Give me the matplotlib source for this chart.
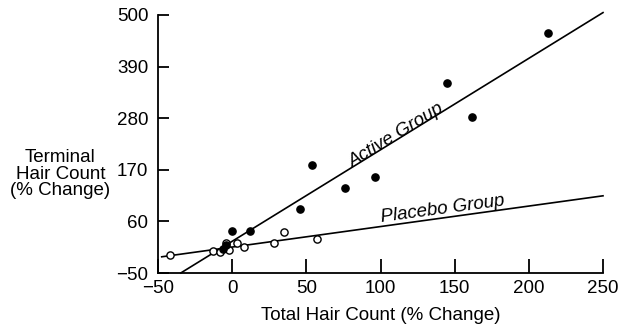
import numpy as np
import matplotlib.pyplot as plt

plt.rcParams['font.family'] = ['Liberation Sans', 'DejaVu Sans']

# active group (filled dots): total hair count vs terminal hair count, % change
active_x = [213, 145, 162, 54, 76, 96, 46, 0, 12, -4, -6]
active_y = [462, 355, 283, 180, 131, 155, 86, 40, 40, 10, 2]

# placebo group (open circles)
placebo_x = [-42, -13, -8, -4, -2, 3, 8, 28, 35, 57]
placebo_y = [-12, -3, -5, 15, 0, 13, 5, 15, 38, 22]

# fitted lines: slope, intercept, x-range
active_fit = [1.95, 17.6, -34.6, 250]
placebo_fit = [0.437, 5.3, -47.5, 250]

xticks = [-50, 0, 50, 100, 150, 200, 250]
yticks = [-50, 60, 170, 280, 390, 500]

fs = 13.5
fig = plt.figure(figsize=(6.28, 3.36), dpi=100)
ax = fig.add_axes([0.2516, 0.1875, 0.7086, 0.7679])

for fit in (active_fit, placebo_fit):
    xs = np.array(fit[2:])
    ax.plot(xs, fit[0] * xs + fit[1], color='black', lw=1.2, clip_on=False, zorder=2)

ax.plot(placebo_x, placebo_y, 'o', ms=5.2, mfc='white', mec='black', mew=1.0,
        clip_on=False, zorder=3)
ax.plot(active_x, active_y, 'o', ms=5.2, color='black', clip_on=False, zorder=4)

ax.text(111, 243, 'Active Group', style='italic', fontsize=fs,
        rotation=31.5, ha='center', va='center')
ax.text(142, 86, 'Placebo Group', style='italic', fontsize=fs,
        rotation=7.7, ha='center', va='center')

ax.set_xlim(-50, 250)
ax.set_ylim(-50, 500)
ax.set_xticks(xticks)
ax.set_yticks(yticks)
ax.spines['top'].set_visible(False)
ax.spines['right'].set_visible(False)
for s in ('left', 'bottom'):
    ax.spines[s].set_linewidth(1.3)
ax.tick_params(axis='x', direction='in', length=10, width=1.3, labelsize=fs, pad=5)
ax.tick_params(axis='y', direction='in', length=8, width=1.3, labelsize=fs, pad=7)

ax.set_xlabel('Total Hair Count (% Change)', fontsize=fs, labelpad=7)
fig.text(0.096, 0.482, 'Terminal\nHair Count\n(% Change)', fontsize=fs,
         ha='center', va='center', linespacing=0.95)

fig.savefig('out.png', dpi=100)
